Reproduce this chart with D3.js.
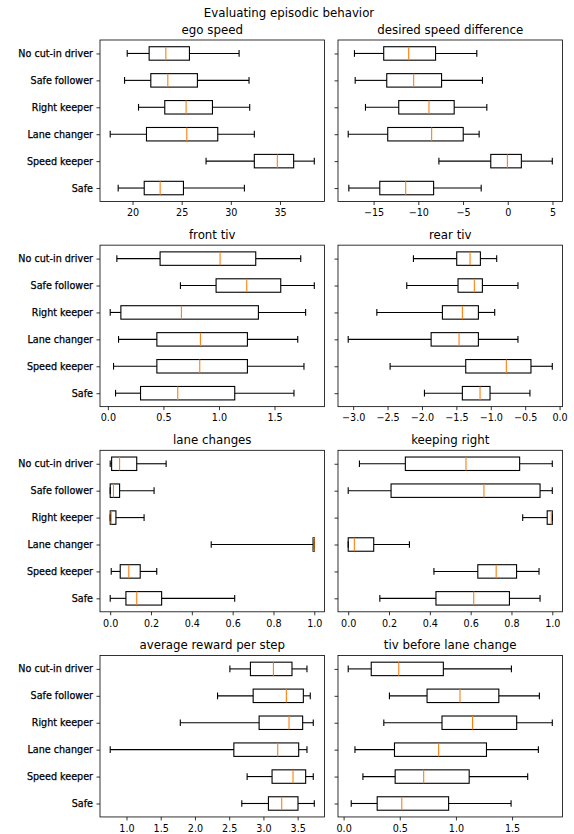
<!DOCTYPE html>
<html>
<head>
<meta charset="utf-8">
<script src="https://cdn.jsdelivr.net/npm/d3@7"></script>
<style>
  body { margin: 0; background: #fff; }
  text { font-family: "DejaVu Sans", sans-serif; }
</style>
</head>
<body>
<svg id="fig" width="574" height="834"></svg>
<script>
// Driver profiles, listed top to bottom
const categories = ["No cut-in driver", "Safe follower", "Right keeper", "Lane changer", "Speed keeper", "Safe"];

// Per metric, one row per profile: [min, q1, median, q3, max]
const egoSpeed = [
  [19.46, 21.69, 23.39, 25.79, 30.84],
  [19.19, 21.86, 23.59, 26.60, 31.85],
  [20.61, 23.28, 25.45, 28.13, 31.92],
  [17.73, 21.42, 25.52, 28.67, 32.39],
  [27.48, 32.39, 34.73, 36.39, 38.49],
  [18.54, 21.19, 22.81, 25.18, 31.38]
];
const desiredSpeedDifference = [
  [-17.14, -13.87, -11.08, -8.07, -3.46],
  [-17.06, -13.53, -10.52, -7.40, -2.83],
  [-15.91, -12.19, -8.81, -5.99, -2.34],
  [-17.84, -13.42, -8.51, -4.98, -3.20],
  [-7.70, -1.90, -0.04, 1.52, 4.98],
  [-17.77, -14.31, -11.41, -8.29, -2.97]
];
const frontTiv = [
  [0.081, 0.470, 1.010, 1.331, 1.736],
  [0.653, 0.974, 1.250, 1.556, 1.858],
  [0.021, 0.117, 0.662, 1.355, 1.780],
  [0.096, 0.441, 0.833, 1.256, 1.709],
  [0.051, 0.441, 0.827, 1.256, 1.765],
  [0.069, 0.294, 0.629, 1.142, 1.675]
];
const rearTiv = [
  [-2.124, -1.495, -1.301, -1.151, -0.914],
  [-2.221, -1.476, -1.239, -1.122, -0.605],
  [-2.656, -1.703, -1.413, -1.180, -0.943],
  [-3.072, -1.867, -1.461, -1.180, -0.605],
  [-2.463, -1.364, -0.774, -0.416, -0.106],
  [-1.964, -1.413, -1.156, -1.011, -0.431]
];
const laneChanges = [
  [0.000, 0.007, 0.046, 0.130, 0.274],
  [0.000, 0.000, 0.016, 0.046, 0.215],
  [0.000, 0.000, 0.005, 0.028, 0.166],
  [0.495, 0.994, 0.999, 1.000, 1.000],
  [0.005, 0.049, 0.091, 0.147, 0.228],
  [0.000, 0.077, 0.130, 0.252, 0.610]
];
const keepingRight = [
  [0.055, 0.280, 0.577, 0.840, 1.000],
  [0.000, 0.210, 0.665, 0.940, 1.000],
  [0.855, 0.975, 0.995, 1.000, 1.000],
  [0.000, 0.000, 0.030, 0.125, 0.300],
  [0.420, 0.635, 0.725, 0.825, 0.935],
  [0.155, 0.430, 0.615, 0.790, 0.940]
];
const averageReward = [
  [2.510, 2.810, 3.146, 3.417, 3.636],
  [2.330, 2.850, 3.335, 3.583, 3.684],
  [1.786, 2.937, 3.374, 3.573, 3.728],
  [0.762, 2.568, 3.209, 3.515, 3.636],
  [2.762, 3.126, 3.432, 3.617, 3.728],
  [2.684, 3.073, 3.267, 3.505, 3.743]
];
const tivBeforeLaneChange = [
  [0.041, 0.246, 0.491, 0.888, 1.494],
  [0.408, 0.743, 1.036, 1.382, 1.743],
  [0.358, 0.876, 1.148, 1.541, 1.858],
  [0.101, 0.453, 0.846, 1.272, 1.734],
  [0.172, 0.459, 0.713, 1.118, 1.639],
  [0.068, 0.299, 0.518, 0.935, 1.491]
];

// Tick values for each x axis
const egoSpeedTicks = [20, 25, 30, 35];
const desiredSpeedTicks = [-15, -10, -5, 0, 5];
const frontTivTicks = [0, 0.5, 1, 1.5];
const rearTivTicks = [-3, -2.5, -2, -1.5, -1, -0.5, 0];
const laneChangesTicks = [0, 0.2, 0.4, 0.6, 0.8, 1];
const keepingRightTicks = [0, 0.2, 0.4, 0.6, 0.8, 1];
const averageRewardTicks = [1, 1.5, 2, 2.5, 3, 3.5];
const tivBeforeTicks = [0, 0.5, 1, 1.5];

const panels = [
  { title: "ego speed", stats: egoSpeed, ticks: egoSpeedTicks, digits: 0 },
  { title: "desired speed difference", stats: desiredSpeedDifference, ticks: desiredSpeedTicks, digits: 0 },
  { title: "front tiv", stats: frontTiv, ticks: frontTivTicks, digits: 1 },
  { title: "rear tiv", stats: rearTiv, ticks: rearTivTicks, digits: 1 },
  { title: "lane changes", stats: laneChanges, ticks: laneChangesTicks, digits: 1 },
  { title: "keeping right", stats: keepingRight, ticks: keepingRightTicks, digits: 1 },
  { title: "average reward per step", stats: averageReward, ticks: averageRewardTicks, digits: 1 },
  { title: "tiv before lane change", stats: tivBeforeLaneChange, ticks: tivBeforeTicks, digits: 1 }
];

const W = 574, H = 834;
const svg = d3.select("#fig");
svg.append("rect").attr("width", W).attr("height", H).attr("fill", "#fff");

svg.append("text")
  .attr("x", 289).attr("y", 17)
  .attr("text-anchor", "middle")
  .attr("font-size", 11.8)
  .attr("fill", "#000")
  .text("Evaluating episodic behavior");

const colLeft = [100, 338];
const axW = 224.5, axH = 161.5;
const rowTop = 40, rowStep = 205.15;
const medianColor = "#ff7f0e";
const tickFont = 9.6;
const lineW = 1.1;

const fmt = digits => v => {
  const s = d3.format("." + digits + "f")(Math.abs(v) < 1e-9 ? 0 : v);
  return s.replace("-", "\u2212");
};

panels.forEach((p, i) => {
  const col = i % 2, row = Math.floor(i / 2);
  const x0 = colLeft[col], y0 = rowTop + row * rowStep;

  // autoscale with a 5% margin around the whisker extents
  const lo = d3.min(p.stats, d => d[0]);
  const hi = d3.max(p.stats, d => d[4]);
  const pad = (hi - lo) * 0.05;
  const x = d3.scaleLinear().domain([lo - pad, hi + pad]).range([x0, x0 + axW]);
  const y = d3.scaleLinear().domain([0.5, categories.length + 0.5]).range([y0 + axH, y0]);
  const posOf = k => categories.length - k;   // first profile drawn at the top

  const g = svg.append("g");

  // subplot title
  g.append("text")
    .attr("x", x0 + axW / 2).attr("y", y0 - 6)
    .attr("text-anchor", "middle")
    .attr("font-size", 11.8)
    .attr("fill", "#000")
    .text(p.title);

  // x axis
  const xAxis = d3.axisBottom(x)
    .tickValues(p.ticks)
    .tickSize(3.5)
    .tickPadding(4.5)
    .tickFormat(fmt(p.digits));
  const gx = g.append("g")
    .attr("transform", `translate(0,${y0 + axH})`)
    .call(xAxis);
  gx.select(".domain").remove();
  gx.selectAll("line").attr("stroke", "#000").attr("stroke-width", 0.8);
  gx.selectAll("text").attr("font-size", tickFont).attr("font-family", "DejaVu Sans").attr("fill", "#000");

  // y axis with profile names on the left column only
  const yAxis = d3.axisLeft(y)
    .tickValues(categories.map((c, k) => posOf(k)))
    .tickSize(3.5)
    .tickPadding(3.5)
    .tickFormat(v => col === 0 ? categories[categories.length - v] : "");
  const gy = g.append("g")
    .attr("transform", `translate(${x0},0)`)
    .call(yAxis);
  gy.select(".domain").remove();
  gy.selectAll("line").attr("stroke", "#000").attr("stroke-width", 0.8);
  gy.selectAll("text")
    .attr("font-size", tickFont).attr("font-family", "DejaVu Sans")
    .attr("fill", "#000").attr("stroke", "#000").attr("stroke-width", 0.25);

  // boxes
  const boxes = g.append("g");
  p.stats.forEach((s, k) => {
    const pos = posOf(k);
    const [mn, q1, md, q3, mx] = s;
    const yc = y(pos);
    const bTop = y(pos + 0.25), bBot = y(pos - 0.25);
    const cTop = y(pos + 0.125), cBot = y(pos - 0.125);
    const line = (x1, y1, x2, y2, color) =>
      boxes.append("line")
        .attr("x1", x1).attr("y1", y1).attr("x2", x2).attr("y2", y2)
        .attr("stroke", color || "#000").attr("stroke-width", lineW);

    // whiskers and caps
    line(x(mn), yc, x(q1), yc);
    line(x(q3), yc, x(mx), yc);
    line(x(mn), cTop, x(mn), cBot);
    line(x(mx), cTop, x(mx), cBot);

    // box
    boxes.append("rect")
      .attr("x", x(q1)).attr("y", bTop)
      .attr("width", Math.max(0, x(q3) - x(q1)))
      .attr("height", bBot - bTop)
      .attr("fill", "none")
      .attr("stroke", "#000").attr("stroke-width", lineW);

    // median
    line(x(md), bTop, x(md), bBot, medianColor);
  });

  // frame
  g.append("rect")
    .attr("x", x0).attr("y", y0)
    .attr("width", axW).attr("height", axH)
    .attr("fill", "none")
    .attr("stroke", "#000").attr("stroke-width", 0.8);
});
</script>
</body>
</html>
